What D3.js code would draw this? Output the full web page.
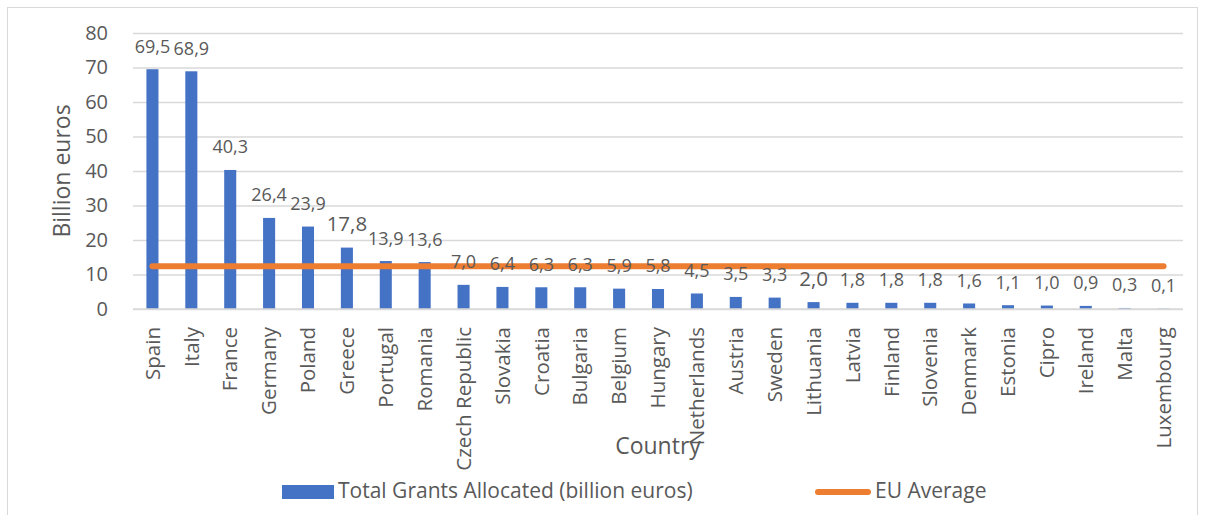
<!DOCTYPE html>
<html>
<head>
<meta charset="utf-8">
<script src="https://cdn.jsdelivr.net/npm/d3@7"></script>
<style>
  html, body { margin: 0; padding: 0; background: #ffffff; }
  svg { display: block; font-family: "Open Sans", "Noto Sans", sans-serif; }
</style>
</head>
<body>
<svg id="chart" width="1209" height="515"></svg>
<script>
// Grants allocated per member state (billion euros)
const countries = ["Spain", "Italy", "France", "Germany", "Poland", "Greece", "Portugal", "Romania",
  "Czech Republic", "Slovakia", "Croatia", "Bulgaria", "Belgium", "Hungary", "Netherlands", "Austria",
  "Sweden", "Lithuania", "Latvia", "Finland", "Slovenia", "Denmark", "Estonia", "Cipro", "Ireland",
  "Malta", "Luxembourg"];
const grants = [69.5, 68.9, 40.3, 26.4, 23.9, 17.8, 13.9, 13.6, 7.0, 6.4, 6.3, 6.3, 5.9, 5.8, 4.5, 3.5,
  3.3, 2.0, 1.8, 1.8, 1.8, 1.6, 1.1, 1.0, 0.9, 0.3, 0.1];
const euAverage = 12.4;
const yTicks = [0, 10, 20, 30, 40, 50, 60, 70, 80];
const seriesNames = ["Total Grants Allocated (billion euros)", "EU Average"];

const BLUE = "#4472C4", ORANGE = "#ED7D31", TEXT = "#595959", GRID = "#D9D9D9";

const svg = d3.select("#chart");
const plot = { left: 133, right: 1183, top: 33, bottom: 309 };

const x = d3.scaleBand().domain(countries)
  .range([plot.left, plot.right]).paddingInner(0.69).paddingOuter(0.345);
const y = d3.scaleLinear().domain([0, 80]).range([plot.bottom, plot.top]);
const cx = c => x(c) + x.bandwidth() / 2;

const fmt = d3.formatLocale({ decimal: ",", thousands: ".", grouping: [3], currency: ["", "€"] }).format(".1f");

// outer chart frame
svg.append("rect").attr("x", 7.5).attr("y", 7.5).attr("width", 1190).attr("height", 530)
  .attr("fill", "none").attr("stroke", GRID).attr("stroke-width", 1);

// value axis: gridlines and labels
const yAxis = d3.axisLeft(y).tickValues(yTicks).tickSize(-(plot.right - plot.left)).tickPadding(25);
const gy = svg.append("g").attr("transform", `translate(${plot.left},0)`).call(yAxis);
gy.select(".domain").remove();
gy.selectAll(".tick line").attr("stroke", GRID).attr("stroke-width", 1.5);
gy.selectAll(".tick text").attr("fill", TEXT).attr("font-size", 20).attr("font-family", "Open Sans");

// bars
svg.append("g").selectAll("rect").data(grants).join("rect")
  .attr("x", (d, i) => x(countries[i]))
  .attr("y", d => y(d))
  .attr("width", x.bandwidth())
  .attr("height", d => y(0) - y(d))
  .attr("fill", BLUE);

// EU average line
svg.append("line")
  .attr("x1", cx(countries[0])).attr("x2", cx(countries[countries.length - 1]))
  .attr("y1", y(euAverage)).attr("y2", y(euAverage))
  .attr("stroke", ORANGE).attr("stroke-width", 6).attr("stroke-linecap", "round");

// value labels (two of them are drawn in a larger size)
const largeLabels = new Set(["Greece", "Lithuania"]);
svg.append("g").selectAll("text").data(grants).join("text")
  .attr("x", (d, i) => cx(countries[i]))
  .attr("y", d => y(d) - 16.5)
  .attr("text-anchor", "middle")
  .attr("fill", TEXT)
  .attr("font-size", (d, i) => largeLabels.has(countries[i]) ? 20.5 : 18)
  .text(d => fmt(d));

// category axis labels, rotated
const xAxis = d3.axisBottom(x).tickSize(0).tickPadding(0);
const gx = svg.append("g").attr("transform", `translate(0,${plot.bottom})`).call(xAxis);
gx.select(".domain").attr("stroke", GRID).attr("stroke-width", 1.5)
  .attr("d", `M${plot.left},0H${plot.right}`);
gx.selectAll(".tick text")
  .attr("fill", TEXT).attr("font-size", 20.5).attr("font-family", "Open Sans")
  .attr("text-anchor", "end")
  .attr("transform", "translate(0,18) rotate(-90)")
  .attr("x", 0).attr("y", 0).attr("dy", "0.35em");

// axis titles
svg.append("text")
  .attr("transform", `translate(70,${(plot.top + plot.bottom) / 2}) rotate(-90)`)
  .attr("text-anchor", "middle").attr("fill", TEXT).attr("font-size", 23)
  .text("Billion euros");
svg.append("text")
  .attr("x", (plot.left + plot.right) / 2).attr("y", 454)
  .attr("text-anchor", "middle").attr("fill", TEXT).attr("font-size", 23)
  .text("Country");

// legend
const legend = svg.append("g");
legend.append("rect").attr("x", 282).attr("y", 485).attr("width", 52).attr("height", 14).attr("fill", BLUE);
legend.append("text").attr("x", 338).attr("y", 498).attr("fill", TEXT).attr("font-size", 21)
  .text(seriesNames[0]);
legend.append("line").attr("x1", 818).attr("x2", 868).attr("y1", 492).attr("y2", 492)
  .attr("stroke", ORANGE).attr("stroke-width", 6).attr("stroke-linecap", "round");
legend.append("text").attr("x", 875).attr("y", 498).attr("fill", TEXT).attr("font-size", 21)
  .text(seriesNames[1]);
</script>
</body>
</html>
